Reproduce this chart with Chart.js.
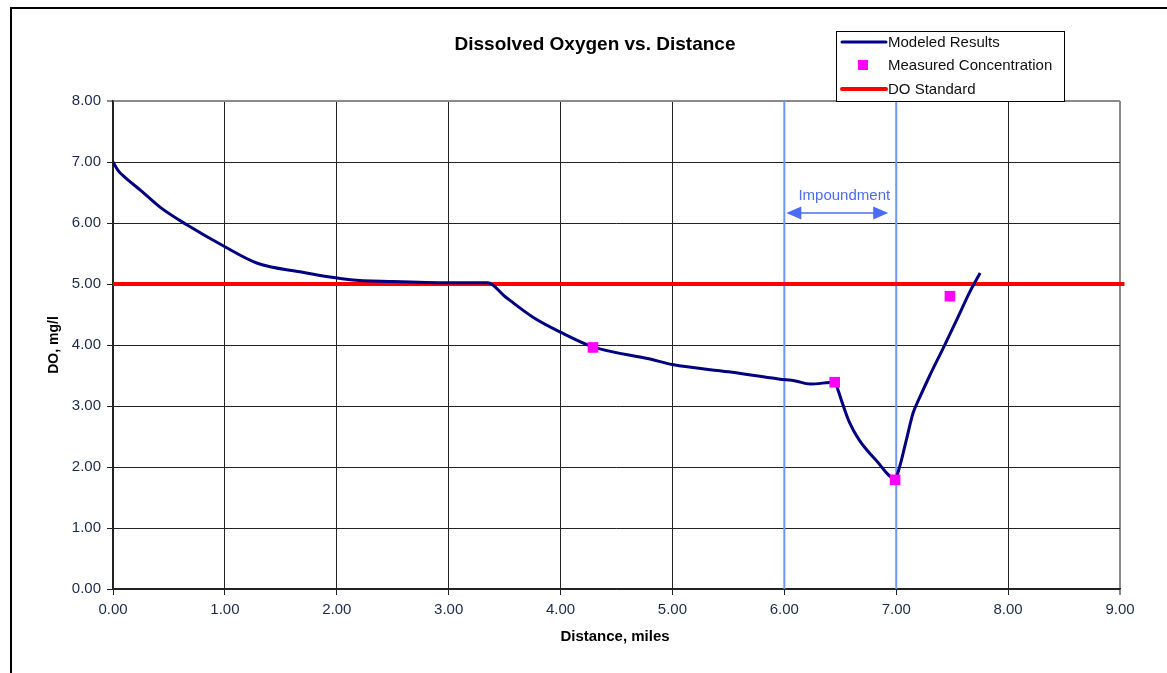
<!DOCTYPE html>
<html>
<head>
<meta charset="utf-8">
<script src="https://cdn.jsdelivr.net/npm/chart.js@4.4.0/dist/chart.umd.min.js"></script>
<style>
  body { margin: 0; background: #fff; }
  #frame { position: absolute; left: 10px; top: 7px; width: 1160px; height: 670px;
           border-left: 2px solid #000; border-top: 2px solid #000; }
  #canvas1 { position: absolute; left: 0; top: 0; }
</style>
</head>
<body>
<div id="frame"></div>
<canvas id="canvas1" width="1167" height="673"></canvas>
<script>
// modeled DO along the stream
var modelMiles = [0, 0.05, 0.1, 0.25, 0.42, 0.66, 1.0, 1.29, 1.67, 2.12, 2.5, 3.01, 3.35, 3.5, 3.75, 4.0, 4.29, 4.8, 5.0, 5.5,
                  5.96, 6.1, 6.23, 6.45, 6.48, 6.52, 6.58, 6.67, 6.82, 6.99, 7.03, 7.09, 7.15, 7.21, 7.3, 7.42, 7.55, 7.66, 7.75];
var modelDO = [7.0, 6.85, 6.76, 6.53, 6.26, 5.97, 5.61, 5.34, 5.2, 5.07, 5.04, 5.02, 5.02, 4.8, 4.46, 4.21, 3.97, 3.77, 3.68, 3.56,
               3.44, 3.41, 3.36, 3.39, 3.26, 3.04, 2.74, 2.44, 2.11, 1.81, 2.0, 2.44, 2.88, 3.14, 3.5, 3.95, 4.45, 4.88, 5.18];
// measured samples
var sampleMiles = [4.29, 6.45, 6.99, 7.48];
var sampleDO = [3.96, 3.39, 1.79, 4.8];
// standard
var stdMiles = [0, 9.04];
var stdDO = [5, 5];
var impoundMiles = [6, 7];
var xTicks = [0, 1, 2, 3, 4, 5, 6, 7, 8, 9];
var yTicks = [0, 1, 2, 3, 4, 5, 6, 7, 8];

function pts(xs, ys) {
  return xs.map(function (x, i) { return { x: x, y: ys[i] }; });
}

var FONT = '"Liberation Sans", Arial, sans-serif';
var IMP_BLUE = '#6f95ff';

var overlay = {
  id: 'overlay',
  afterDraw: function (chart) {
    var ctx = chart.ctx, xs = chart.scales.x;
    ctx.save();
    // title
    ctx.fillStyle = '#000';
    ctx.font = 'bold 19px ' + FONT;
    ctx.textAlign = 'center';
    ctx.textBaseline = 'middle';
    ctx.fillText('Dissolved Oxygen vs. Distance', 595, 45);
    // axis titles
    ctx.font = 'bold 15px ' + FONT;
    ctx.fillText('Distance, miles', 615, 637);
    ctx.save();
    ctx.translate(54, 345);
    ctx.rotate(-Math.PI / 2);
    ctx.font = 'bold 14px ' + FONT;
    ctx.fillText('DO, mg/l', 0, 0);
    ctx.restore();

    // impoundment label + double arrow
    var x6 = xs.getPixelForValue(impoundMiles[0]), x7 = xs.getPixelForValue(impoundMiles[1]);
    ctx.fillStyle = '#4a6cf7';
    ctx.font = '15px ' + FONT;
    ctx.fillText('Impoundment', (x6 + x7) / 2 + 4, 196);
    var ay = 213, a0 = x6 + 2, a1 = x7 - 8;
    ctx.strokeStyle = '#4a6cf7';
    ctx.lineWidth = 1.5;
    ctx.beginPath(); ctx.moveTo(a0 + 10, ay); ctx.lineTo(a1 - 10, ay); ctx.stroke();
    ctx.beginPath();
    ctx.moveTo(a0, ay); ctx.lineTo(a0 + 15, ay - 6.5); ctx.lineTo(a0 + 15, ay + 6.5); ctx.closePath();
    ctx.moveTo(a1, ay); ctx.lineTo(a1 - 15, ay - 6.5); ctx.lineTo(a1 - 15, ay + 6.5); ctx.closePath();
    ctx.fill();

    // legend box
    var lx = 836, ly = 31, lw = 228, lh = 70;
    ctx.fillStyle = '#fff';
    ctx.fillRect(lx, ly, lw, lh);
    ctx.strokeStyle = '#000';
    ctx.lineWidth = 1;
    ctx.strokeRect(lx + 0.5, ly + 0.5, lw, lh);
    var ds = chart.data.datasets;
    var rows = [{ d: ds[1], y: 42, kind: 'line' }, { d: ds[0], y: 65, kind: 'box' }, { d: ds[2], y: 89, kind: 'line' }];
    ctx.font = '15px ' + FONT;
    ctx.textAlign = 'left';
    rows.forEach(function (r) {
      if (r.kind === 'line') {
        ctx.strokeStyle = r.d.borderColor;
        ctx.lineWidth = r.d.borderWidth;
        ctx.lineCap = 'round';
        ctx.beginPath(); ctx.moveTo(842, r.y); ctx.lineTo(886, r.y); ctx.stroke();
      } else {
        ctx.fillStyle = r.d.backgroundColor;
        ctx.fillRect(858, r.y - 5, 10, 10);
      }
      ctx.fillStyle = '#111';
      ctx.fillText(r.d.label, 888, r.y + 1);
    });
    ctx.restore();
  }
};

new Chart(document.getElementById('canvas1'), {
  type: 'scatter',
  data: {
    datasets: [
      { label: 'Measured Concentration', data: pts(sampleMiles, sampleDO), showLine: false,
        pointStyle: 'rect', pointRadius: 7.5, pointBackgroundColor: '#ff00ff', backgroundColor: '#ff00ff',
        pointBorderWidth: 0, borderColor: '#ff00ff' },
      { label: 'Modeled Results', data: pts(modelMiles, modelDO), showLine: true,
        borderColor: '#000080', borderWidth: 3, pointRadius: 0, cubicInterpolationMode: 'monotone' },
      { label: 'DO Standard', data: pts(stdMiles, stdDO), showLine: true, clip: false,
        borderColor: '#ff0000', borderWidth: 4, pointRadius: 0 },
      { label: 'imp1', data: pts([impoundMiles[0], impoundMiles[0]], [0, 8]), showLine: true,
        borderColor: IMP_BLUE, borderWidth: 2, pointRadius: 0 },
      { label: 'imp2', data: pts([impoundMiles[1], impoundMiles[1]], [0, 8]), showLine: true,
        borderColor: IMP_BLUE, borderWidth: 2, pointRadius: 0 }
    ]
  },
  options: {
    responsive: false,
    animation: false,
    layout: { padding: { top: 101, right: 47, left: 0, bottom: 0 } },
    plugins: { legend: { display: false }, tooltip: { enabled: false } },
    scales: {
      x: {
        type: 'linear', min: 0, max: 9,
        afterBuildTicks: function (s) { s.ticks = xTicks.map(function (v) { return { value: v }; }); },
        afterFit: function (s) { s.height = 84; },
        ticks: { callback: function (v) { return v.toFixed(2); }, color: '#1c2a4a',
                 font: { family: FONT, size: 15 }, padding: 6, maxRotation: 0 },
        grid: { color: function (c) { return c.tick && c.tick.value === 9 ? '#8a8a8a' : '#222'; },
                lineWidth: function (c) { return c.tick && c.tick.value === 9 ? 2 : 1; }, tickLength: 6 },
        border: { color: '#222', width: 1.5 }
      },
      y: {
        type: 'linear', min: 0, max: 8,
        afterBuildTicks: function (s) { s.ticks = yTicks.map(function (v) { return { value: v }; }); },
        afterFit: function (s) { s.width = 113; },
        ticks: { callback: function (v) { return v.toFixed(2); }, color: '#1c2a4a',
                 font: { family: FONT, size: 15 }, padding: 6 },
        grid: { color: function (c) { return c.tick && c.tick.value === 8 ? '#8a8a8a' : '#222'; },
                lineWidth: function (c) { return c.tick && c.tick.value === 8 ? 2 : 1; }, tickLength: 6 },
        border: { color: '#222', width: 1.5 }
      }
    }
  },
  plugins: [overlay]
});
</script>
</body>
</html>
